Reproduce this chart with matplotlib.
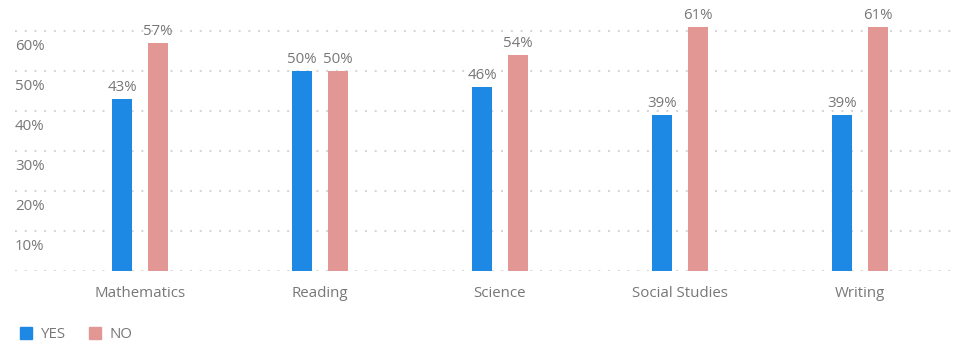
import matplotlib
matplotlib.use("Agg")
import matplotlib.pyplot as plt
from matplotlib.transforms import ScaledTranslation
from matplotlib.lines import Line2D
import numpy as np

plt.rcParams['font.family'] = ['Open Sans', 'DejaVu Sans']

categories = ["Mathematics", "Reading", "Science", "Social Studies", "Writing"]
yes_values = [43, 50, 46, 39, 39]
no_values = [57, 50, 54, 61, 61]
series_names = ["YES", "NO"]
y_ticks = [0, 10, 20, 30, 40, 50, 60]
y_tick_labels = ["", "10%", "20%", "30%", "40%", "50%", "60%"]

blue = "#1E88E5"
pink = "#E29795"
text_gray = "#777777"
fs = 10.8

W, H = 966, 351
dpi = 100
fig = plt.figure(figsize=(W / dpi, H / dpi), dpi=dpi)
ax = fig.add_axes([15 / W, 80 / H, 940 / W, 261 / H])

x = np.arange(len(categories))
off = 0.1
bw = 0.112
ax.bar(x - off, yes_values, bw, color=blue, zorder=3)
ax.bar(x + off, no_values, bw, color=pink, zorder=3)

for xi, v in zip(x, yes_values):
    ax.text(xi - off, v + 1.0, f"{v}%", ha="center", va="bottom", fontsize=fs, color=text_gray)
for xi, v in zip(x, no_values):
    ax.text(xi + off, v + 1.0, f"{v}%", ha="center", va="bottom", fontsize=fs, color=text_gray)

ax.set_xlim((15 - 140) / 180, (955 - 140) / 180)
ax.set_ylim(0, 65.25)

ax.set_yticks(y_ticks)
ax.set_yticklabels(y_tick_labels, fontsize=fs, color=text_gray, ha="left")
ax.tick_params(axis="y", length=0, pad=0)
off_t = ScaledTranslation(0, -14 / dpi, fig.dpi_scale_trans)
for lab in ax.get_yticklabels():
    lab.set_x(0.0)
    lab.set_transform(ax.get_yaxis_transform() + off_t)

ax.set_xticks(x)
ax.set_xticklabels(categories, fontsize=fs, color=text_gray)
ax.tick_params(axis="x", length=0, pad=11)

ax.grid(axis="y", color="#d4d4d4", linestyle=(0, (1, 4)), linewidth=1.4, zorder=0)
for s in ax.spines.values():
    s.set_visible(False)

handles = [Line2D([], [], marker="s", linestyle="none", markersize=9, color=c)
           for c in (blue, pink)]
fig.legend(handles, series_names, loc="center left", bbox_to_anchor=(5 / W, 1 - 335 / H),
           frameon=False, ncol=2, fontsize=fs, labelcolor=text_gray,
           handletextpad=0.5, columnspacing=1.4, handlelength=1.0)

fig.savefig("out.png", dpi=dpi)
